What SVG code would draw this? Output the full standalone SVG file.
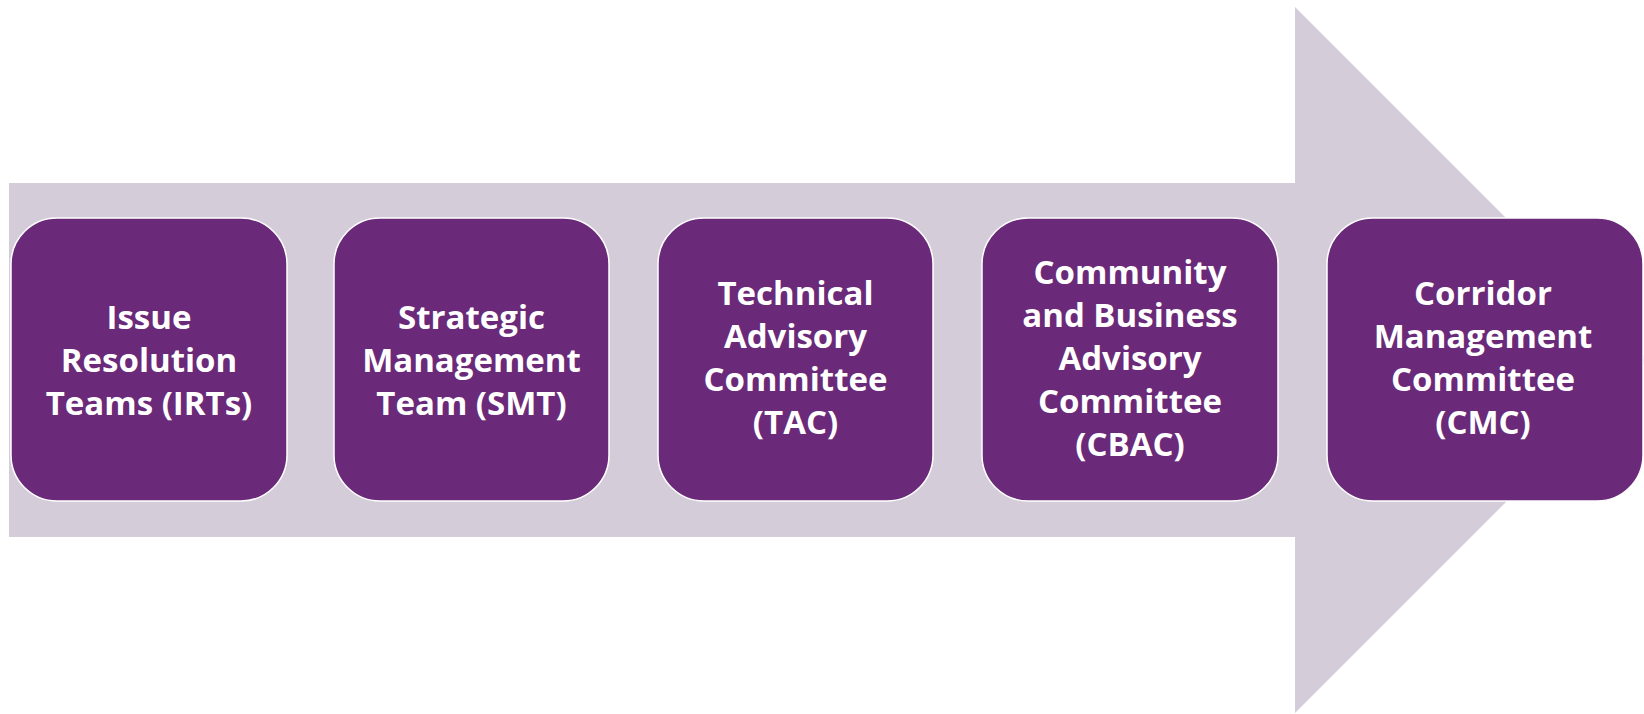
<svg xmlns="http://www.w3.org/2000/svg" width="1644" height="714" viewBox="0 0 1644 714">
  <style>
    .box { fill: #6A2A79; stroke: #FFFFFF; stroke-width: 1.5; }
    .lbl { font-family: "Open Sans", "Liberation Sans", sans-serif; font-weight: bold; font-size: 33px; fill: #FFFFFF; text-anchor: middle; }
  </style>
  <rect x="0" y="0" width="1644" height="714" fill="#FFFFFF"/>
  <g id="connectors">
    <polygon id="arrow" points="9,183 1295,183 1295,7 1648,360 1295,713 1295,537 9,537" fill="#D5CCDA"/>
  </g>
  <g id="node-irt">
    <rect class="box" x="11" y="218" width="276" height="283" rx="46" ry="46"/>
    <text class="lbl" x="149" y="329">Issue</text>
    <text class="lbl" x="149" y="372">Resolution</text>
    <text class="lbl" x="149" y="415">Teams (IRTs)</text>
  </g>
  <g id="node-smt">
    <rect class="box" x="334" y="218" width="275" height="283" rx="46" ry="46"/>
    <text class="lbl" x="471.5" y="329">Strategic</text>
    <text class="lbl" x="471.5" y="372">Management</text>
    <text class="lbl" x="471.5" y="415">Team (SMT)</text>
  </g>
  <g id="node-tac">
    <rect class="box" x="658" y="218" width="275" height="283" rx="46" ry="46"/>
    <text class="lbl" x="795.5" y="305">Technical</text>
    <text class="lbl" x="795.5" y="348">Advisory</text>
    <text class="lbl" x="795.5" y="391">Committee</text>
    <text class="lbl" x="795.5" y="434">(TAC)</text>
  </g>
  <g id="node-cbac">
    <rect class="box" x="982" y="218" width="296" height="283" rx="46" ry="46"/>
    <text class="lbl" x="1130" y="284">Community</text>
    <text class="lbl" x="1130" y="327">and Business</text>
    <text class="lbl" x="1130" y="370">Advisory</text>
    <text class="lbl" x="1130" y="413">Committee</text>
    <text class="lbl" x="1130" y="456">(CBAC)</text>
  </g>
  <g id="node-cmc">
    <rect class="box" x="1327" y="218" width="316" height="283" rx="46" ry="46"/>
    <text class="lbl" x="1483" y="305">Corridor</text>
    <text class="lbl" x="1483" y="348">Management</text>
    <text class="lbl" x="1483" y="391">Committee</text>
    <text class="lbl" x="1483" y="434">(CMC)</text>
  </g>
</svg>
